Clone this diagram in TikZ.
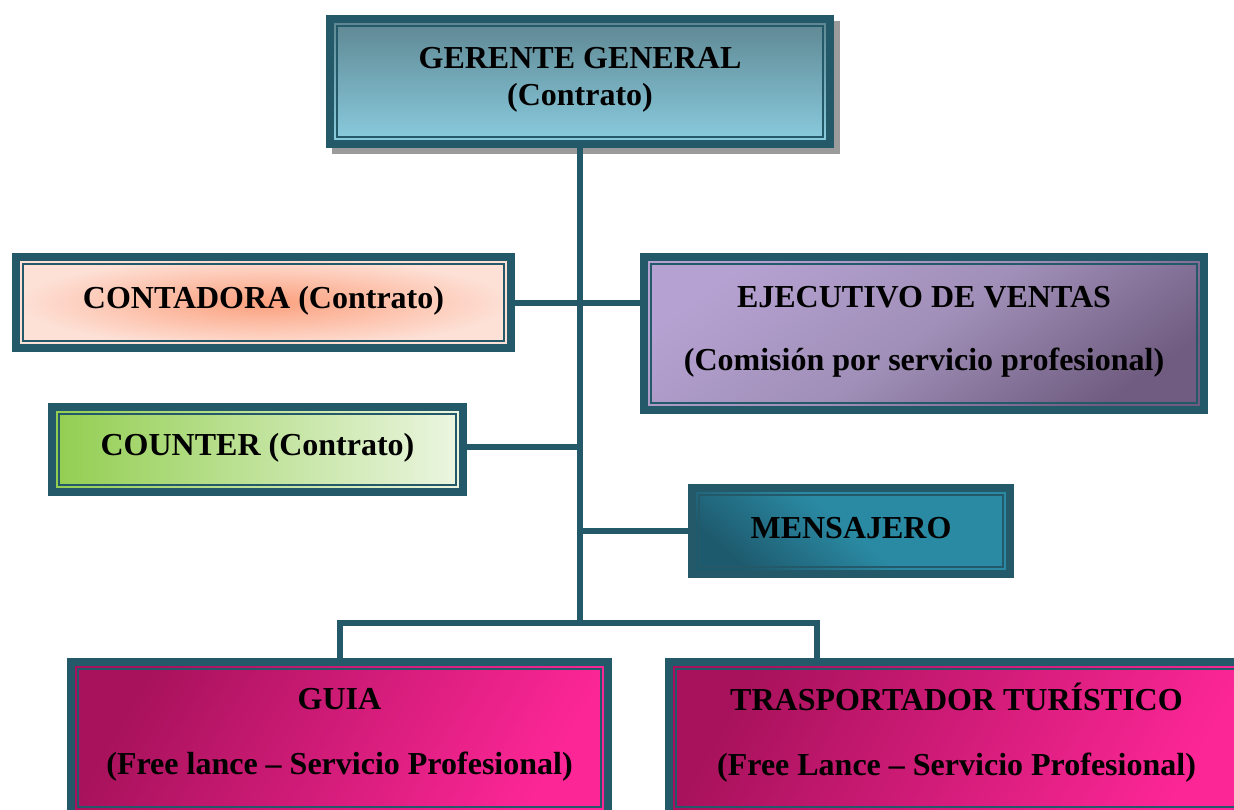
\documentclass[tikz,border=0pt]{standalone}
\usepackage{fontspec}
\setmainfont{Liberation Serif}
\definecolor{bord}{RGB}{35,89,105}
\definecolor{shadowgray}{RGB}{155,155,155}
\definecolor{gTop}{RGB}{94,134,145}
\definecolor{gBot}{RGB}{138,205,224}
\definecolor{cIn}{RGB}{252,160,125}
\definecolor{cOut}{RGB}{253,225,215}
\definecolor{eTop}{RGB}{182,162,210}
\definecolor{eMid}{RGB}{160,143,184}
\definecolor{eBot}{RGB}{112,92,128}
\definecolor{kLeft}{RGB}{146,206,80}
\definecolor{kRight}{RGB}{236,246,226}
\definecolor{mTop}{RGB}{42,138,163}
\definecolor{mBot}{RGB}{30,90,110}
\definecolor{pTop}{RGB}{168,18,92}
\definecolor{pBot}{RGB}{252,38,150}
\begin{document}
\begin{tikzpicture}[x=0.5pt,y=-0.5pt,
  bx/.style={draw=bord, line width=4pt, rectangle, inner sep=0pt,
    path picture={\draw[bord, line width=1pt]
      ([shift={(3.5pt,-3.5pt)}]path picture bounding box.north west) rectangle
      ([shift={(-3.5pt,3.5pt)}]path picture bounding box.south east);}},
  txt/.style={font=\bfseries\fontsize{16}{18.5}\selectfont, align=center, inner sep=0pt, text=black},
  conn/.style={draw=bord, line width=3pt, line join=miter}]
\useasboundingbox (0,0) rectangle (1234,809);
% shadow of top box
\fill[shadowgray] (332,21) rectangle (840,154);
% boxes
\node[bx, minimum width=250pt, minimum height=62.5pt,
  top color=gTop, bottom color=gBot] (G) at (580,81.5) {};
\node[bx, minimum width=247.5pt, minimum height=45.5pt,
  inner color=cIn, outer color=cOut] (C) at (263.5,302.5) {};
\node[bx, minimum width=280pt, minimum height=76.5pt,
  top color=eTop, bottom color=eBot, middle color=eMid, shading angle=35] (E) at (924,333.5) {};
\node[bx, minimum width=205.5pt, minimum height=42.5pt,
  left color=kLeft, right color=kRight] (K) at (257.5,449.5) {};
\node[bx, minimum width=159pt, minimum height=43pt,
  top color=mTop, bottom color=mBot, middle color=mTop, shading angle=-40] (M) at (851,531) {};
\node[bx, minimum width=268.5pt, minimum height=76pt,
  top color=pTop, bottom color=pBot, shading angle=60] (GU) at (339.5,738) {};
\node[bx, minimum width=292.5pt, minimum height=76pt,
  top color=pTop, bottom color=pBot, shading angle=60] (T) at (961.5,738) {};
% texts
\node[txt] (tG) at ([yshift=1.0pt]G.center) {GERENTE GENERAL\\(Contrato)};
\node[txt] (tC) at ([yshift=1.0pt]C.center) {CONTADORA (Contrato)};
\node[txt, font=\bfseries\fontsize{16}{31.5}\selectfont] (tE) at ([yshift=1.0pt]E.center) {EJECUTIVO DE VENTAS\\(Comisión por servicio profesional)};
\node[txt] (tK) at ([yshift=1.0pt]K.center) {COUNTER (Contrato)};
\node[txt] (tM) at ([yshift=1.5pt]M.center) {MENSAJERO};
\node[txt, font=\bfseries\fontsize{16}{32.5}\selectfont] (tGU) at ([yshift=1.5pt]GU.center) {GUIA\\(Free lance – Servicio Profesional)};
\node[txt, font=\bfseries\fontsize{16}{32.5}\selectfont] (tT) at ([xshift=-2.5pt,yshift=2.7pt]T.center) {TRASPORTADOR TURÍSTICO\\(Free Lance – Servicio Profesional)};
% connectors
\coordinate (bot) at (580,623);
\coordinate (br) at (817,623);
\draw[conn] (G.south) -- (bot);
\draw[conn] (C.east) -- (C.east -| E.west);
\draw[conn] ([yshift=1.5pt]K.east) -- ([yshift=1.5pt]K.east -| G.south);
\draw[conn] (M.west -| G.south) -- (M.west);
\draw[conn] (GU.north) |- (br) -- (br |- T.north);
\end{tikzpicture}
\end{document}
